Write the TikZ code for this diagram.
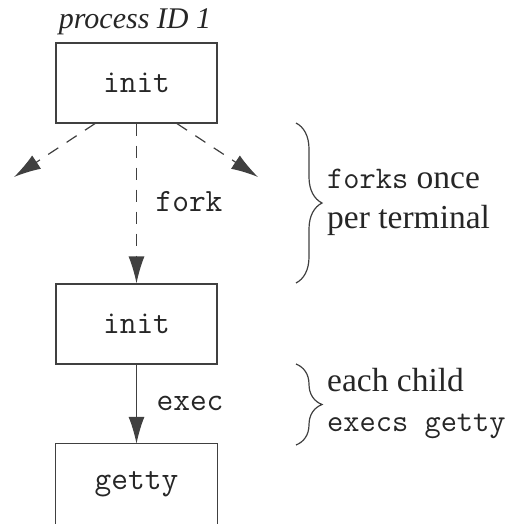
\documentclass[tikz,border=0pt]{standalone}
\usepackage{fontspec}
\setmainfont{Liberation Serif}
\usetikzlibrary{arrows.meta,decorations.pathreplacing}
\newcommand\mtx[1]{{\fontsize{31.5}{40}\selectfont\ttfamily #1}}
\begin{document}
\begin{tikzpicture}[x=1pt,y=-1pt,
 line/.style={line width=1.2pt,draw=black!75},
 box/.style={rectangle, minimum width=161pt, minimum height=80pt, inner sep=0pt, font=\fontsize{32.5}{34}\selectfont\ttfamily, text=black!85},
 arr/.style={line, -{Latex[length=27pt,width=16pt]}},
 dsh/.style={dash pattern=on 12pt off 10pt},
 lbl/.style={font=\fontsize{32.5}{34}\selectfont\ttfamily, text=black!85, inner sep=0pt},
 note/.style={font=\fontsize{33.5}{40}\selectfont, align=left, anchor=west, inner sep=0pt, text=black!85},
 brc/.style={line, decorate, decoration={brace, amplitude=26pt}}]
\clip (0,0) rectangle (511,524);
\node[box, line] (init1) at (136.5,83) {init};
\node[box, line] (init2) at (136.5,324) {init};
\node[box] (getty) at (136.5,484) {getty};
\draw[line] ([yshift=-4pt]getty.south west) -- (getty.north west) -- (getty.north east) -- ([yshift=-4pt]getty.south east);
\node[font=\fontsize{30}{36}\selectfont\itshape, text=black!85, inner sep=0pt] (pid) at (135,22) {process ID 1};
\coordinate (l) at (14,177);
\coordinate (r) at (258,177);
\draw[arr,dsh] ([xshift=-41.5pt]init1.south) -- (l);
\draw[arr,dsh] ([xshift=40.5pt]init1.south) -- (r);
\draw[arr,dsh] (init1) -- (init2);
\draw[arr] (init2) -- (getty);
\node[lbl] (fork) at (189,202) {fork};
\node[lbl] (exec) at (190,403) {exec};
\coordinate (b1t) at (296,123);
\coordinate (b1b) at (296,283);
\coordinate (b2t) at (296,364);
\coordinate (b2b) at (296,445);
\draw[brc] (b1t) -- (b1b);
\draw[brc] (b2t) -- (b2b);
\node[note] (t1) at (327,202) {\mtx{forks} once\\per terminal};
\node[note] (t2) at (327,403) {each child\\\mtx{execs getty}};
\end{tikzpicture}
\end{document}
